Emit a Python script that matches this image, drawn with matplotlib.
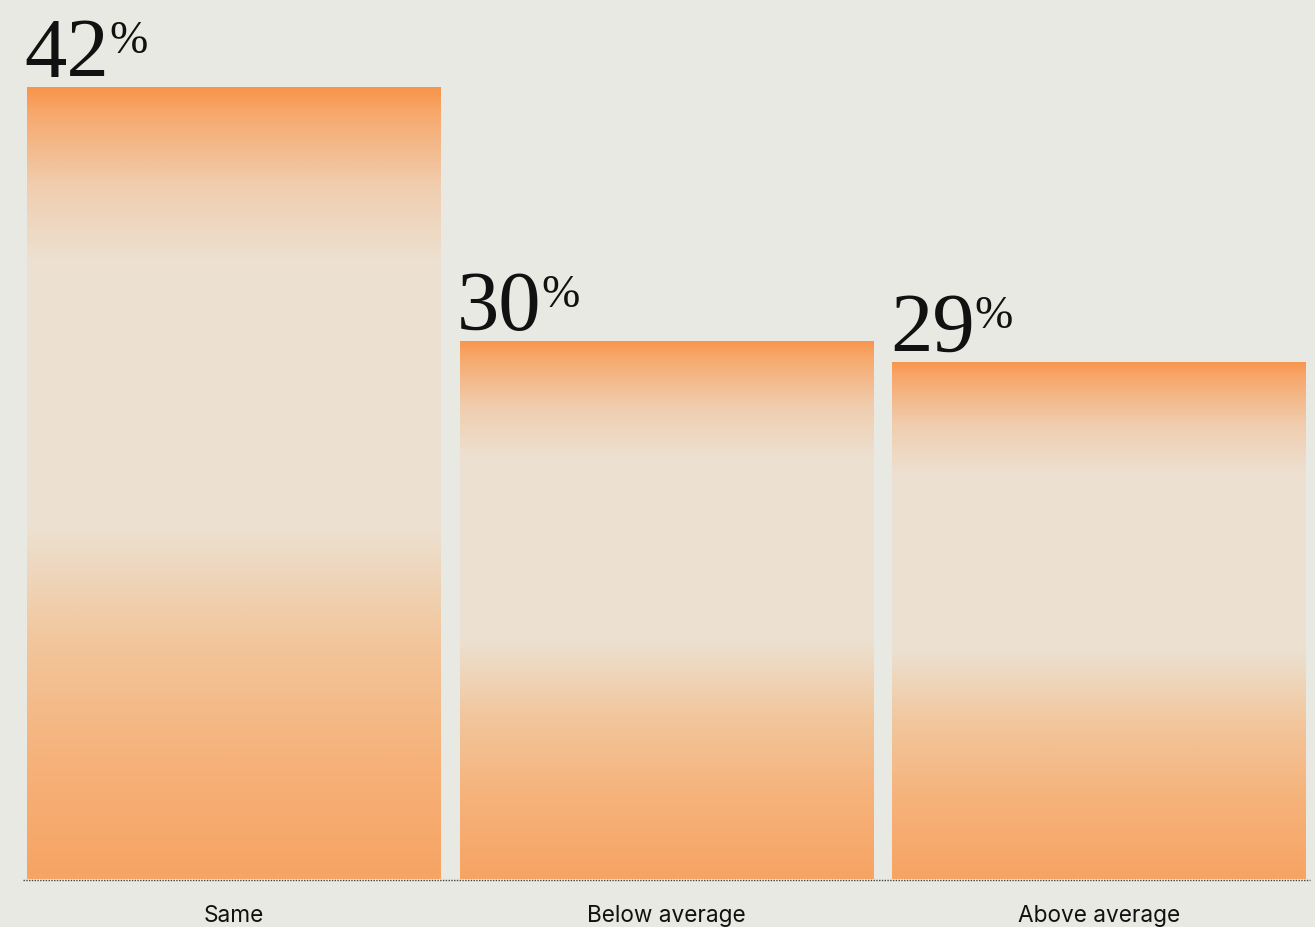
import numpy as np
import matplotlib
matplotlib.use("Agg")
import matplotlib.pyplot as plt
from matplotlib.colors import LinearSegmentedColormap

# data
categories = ["Same", "Below average", "Above average"]
values = [42, 30, 29]
labels = ["42", "30", "29"]

bg = "#e9e9e3"

# orange -> cream -> orange gradient, top of bar to bottom
grad = LinearSegmentedColormap.from_list("bar_grad", [
    (0.00, (248/255, 150/255, 78/255)),
    (0.03, (247/255, 168/255, 108/255)),
    (0.12, (240/255, 205/255, 174/255)),
    (0.22, (237/255, 225/255, 210/255)),
    (0.56, (236/255, 224/255, 208/255)),
    (0.70, (242/255, 198/255, 156/255)),
    (0.85, (246/255, 178/255, 122/255)),
    (1.00, (247/255, 164/255, 100/255)),
])

fig = plt.figure(figsize=(13.15, 9.28), dpi=100, facecolor=bg)
ax = fig.add_axes([23/1315, 48/928, (1310-23)/1315, 857/928])
ax.set_facecolor(bg)

x = np.arange(len(categories))
width = 0.956
ymin, ymax = 4.5, 45.1
bars = ax.bar(x, values, width=width, bottom=0, color="none", edgecolor="none")

ramp = np.linspace(0, 1, 256).reshape(-1, 1)
for b, v in zip(bars, values):
    x0 = b.get_x()
    im = ax.imshow(ramp, cmap=grad, aspect="auto", origin="upper",
                   extent=[x0, x0 + width, ymin, v], zorder=1,
                   interpolation="bicubic")
    im.set_clip_path(b)

ax.set_xlim(-0.487, 2.487)
ax.set_ylim(ymin, ymax)

# value labels with superscript percent
for b, v, lab in zip(bars, values, labels):
    t = ax.text(b.get_x() - 0.006, v + 0.55, lab, ha="left", va="baseline",
                fontsize=61, family="Liberation Serif", color="#111111")
    ax.annotate("%", xy=(1.0, 0.96), xycoords=t, ha="left", va="top",
                fontsize=33, family="Liberation Serif", color="#111111")

# dotted baseline
ax.axhline(ymin - 0.03, color="#444444", lw=1.0, ls=(0, (1, 1)), zorder=5,
           clip_on=False)

ax.set_xticks(x)
ax.set_xticklabels(categories, fontsize=16.3, family="Inter", color="#111111")
ax.tick_params(axis="x", length=0, pad=18)
ax.set_yticks([])
for s in ax.spines.values():
    s.set_visible(False)

fig.savefig("out.png", dpi=100, facecolor=bg)
